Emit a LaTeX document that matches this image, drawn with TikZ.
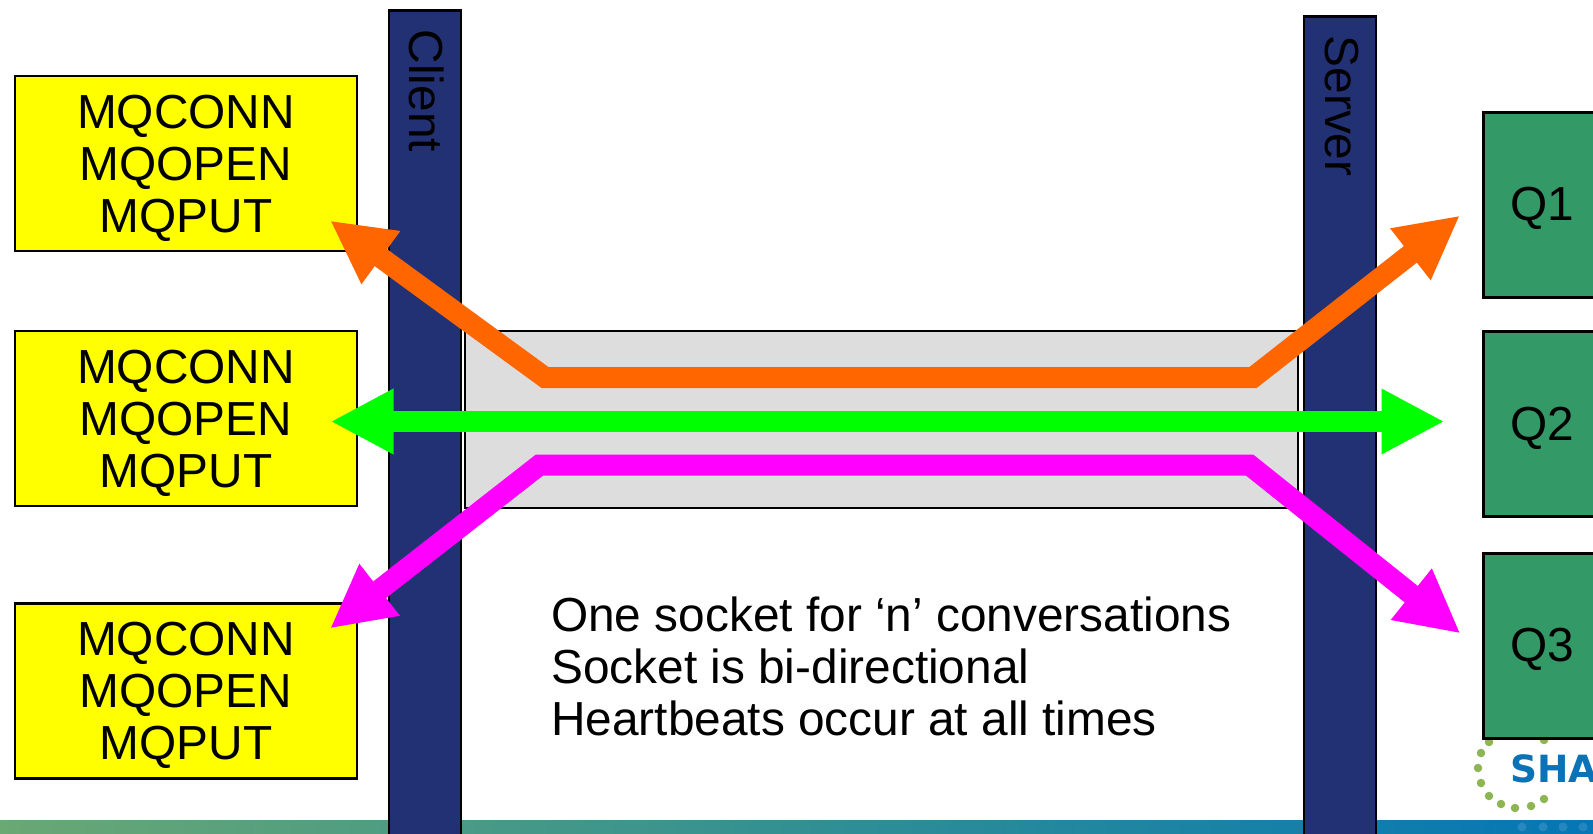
\documentclass[tikz,border=0pt]{standalone}
\usepackage{fontspec}
\setmainfont{Liberation Sans}
\newfontfamily\logofont{DejaVu Sans}
\usetikzlibrary{arrows.meta}
\definecolor{barblue}{HTML}{223174}
\definecolor{qgreen}{HTML}{339966}
\definecolor{sockgray}{HTML}{DDDDDD}
\definecolor{apiyellow}{HTML}{FFFF00}
\definecolor{arrorange}{HTML}{FF6600}
\definecolor{arrgreen}{HTML}{00FF00}
\definecolor{arrmag}{HTML}{FF00FF}
\definecolor{logogreen}{HTML}{8DB553}
\definecolor{logoblue}{HTML}{0B72B5}
\tikzset{
  bigtext/.style={font=\fontsize{47.8}{52}\selectfont},
  api/.style={draw=black,line width=2.5pt,fill=apiyellow,minimum width=342pt,minimum height=175pt,inner sep=0pt},
  apitext/.style={inner sep=0pt,align=center,text=black,bigtext},
  qbox/.style={draw=black,line width=2.5pt,fill=qgreen,inner sep=0pt,minimum width=140pt,minimum height=185pt,anchor=north west},
  bar/.style={draw=black,line width=2.5pt,fill=barblue,minimum width=72pt,minimum height=860pt,inner sep=0pt,anchor=north},
  barlabel/.style={rotate=-90,anchor=west,inner sep=0pt,text=black,bigtext},
  flow/.style={line width=21pt,line join=miter},
  tipb/.style={{Triangle[length=63pt,width=61pt]}-{Triangle[length=63pt,width=61pt]}},
  logodot/.style={fill=logogreen,draw=none,circle,minimum size=8.5pt,inner sep=0pt},
  stripdot/.style={fill=white,fill opacity=0.12,draw=none,circle,minimum size=9pt,inner sep=0pt}
}
\begin{document}
\begin{tikzpicture}[x=1pt,y=-1pt]
\clip (0,0) rectangle (1593,833);
\fill[white] (0,0) rectangle (1593,833);
% footer strip
\shade[left color={rgb,255:red,106;green,168;blue,116},right color={rgb,255:red,5;green,118;blue,182},middle color={rgb,255:red,50;green,144;blue,146}] (0,820.5) rectangle (1593,833);
\foreach \n/\px in {a/1522,b/1543,c/1563,d/1583}{
  \node[stripdot] (sd\n) at (\px,827) {};
}
% logo
\node[logodot] (dota) at (1489,742) {};
\node[logodot] (dotb) at (1481,753) {};
\node[logodot] (dotc) at (1478,768) {};
\node[logodot] (dotd) at (1481,783) {};
\node[logodot] (dote) at (1489,796) {};
\node[logodot] (dotf) at (1501,804) {};
\node[logodot] (dotg) at (1515,808) {};
\node[logodot] (doth) at (1531,806) {};
\node[logodot] (doti) at (1544,799) {};
\node[logodot] (dotj) at (1544,740) {};
\node[anchor=base west,inner sep=0pt,text=logoblue,font=\logofont\fontsize{37.5}{38}\bfseries\selectfont] (logo) at (1510,782) {SHA};
% bars
\node[bar] (client) at (425,9) {};
\node[bar] (server) at (1340,15) {};
\node[barlabel] (clientlabel) at (426.5,29.5) {Client};
\node[barlabel] (serverlabel) at (1342,35.5) {Server};
% socket
\node[draw=black,line width=2.5pt,fill=sockgray,minimum width=833pt,minimum height=177pt,inner sep=0pt] (socket) at (881.5,419.5) {};
% API boxes
\node[api] (a1) at (186,163.5) {};
\node[api] (a2) at (186,418.5) {};
\node[api] (a3) at (186,691) {};
\node[apitext] (a1t) at (186,168.5) {MQCONN\\MQOPEN\\MQPUT};
\node[apitext] (a2t) at (186,423.5) {MQCONN\\MQOPEN\\MQPUT};
\node[apitext] (a3t) at (186,695.5) {MQCONN\\MQOPEN\\MQPUT};
% queues
\node[qbox] (q1) at (1482,111) {};
\node[qbox] (q2) at (1482,330) {};
\node[qbox] (q3) at (1482,552) {};
\node[bigtext,inner sep=0pt] (q1t) at (1542.5,208.5) {Q1};
\node[bigtext,inner sep=0pt] (q2t) at (1542.5,428) {Q2};
\node[bigtext,inner sep=0pt] (q3t) at (1542.5,649) {Q3};
% text
\node[anchor=north west,inner sep=0pt,align=left,bigtext] (note) at (551,597) {One socket for ‘n’ conversations\\Socket is bi-directional\\Heartbeats occur at all times};
% connector ends
\coordinate (ol) at (330,220.5);
\coordinate (olb) at (545,377.5);
\coordinate (orb) at (1253,377.5);
\coordinate (or) at (1460,215.5);
\coordinate (gl) at (330.5,421.5);
\coordinate (gr) at (1444.5,421.5);
\coordinate (ml) at (330,628.5);
\coordinate (mlb) at (539.5,465);
\coordinate (mrb) at (1249.5,465);
\coordinate (mr) at (1460.5,633.5);
\draw[flow,arrorange,tipb] (ol) -- (olb) -- (orb) -- (or);
\draw[flow,arrgreen,tipb] (gl) -- (gr);
\draw[flow,arrmag,tipb] (ml) -- (mlb) -- (mrb) -- (mr);
\end{tikzpicture}
\end{document}
